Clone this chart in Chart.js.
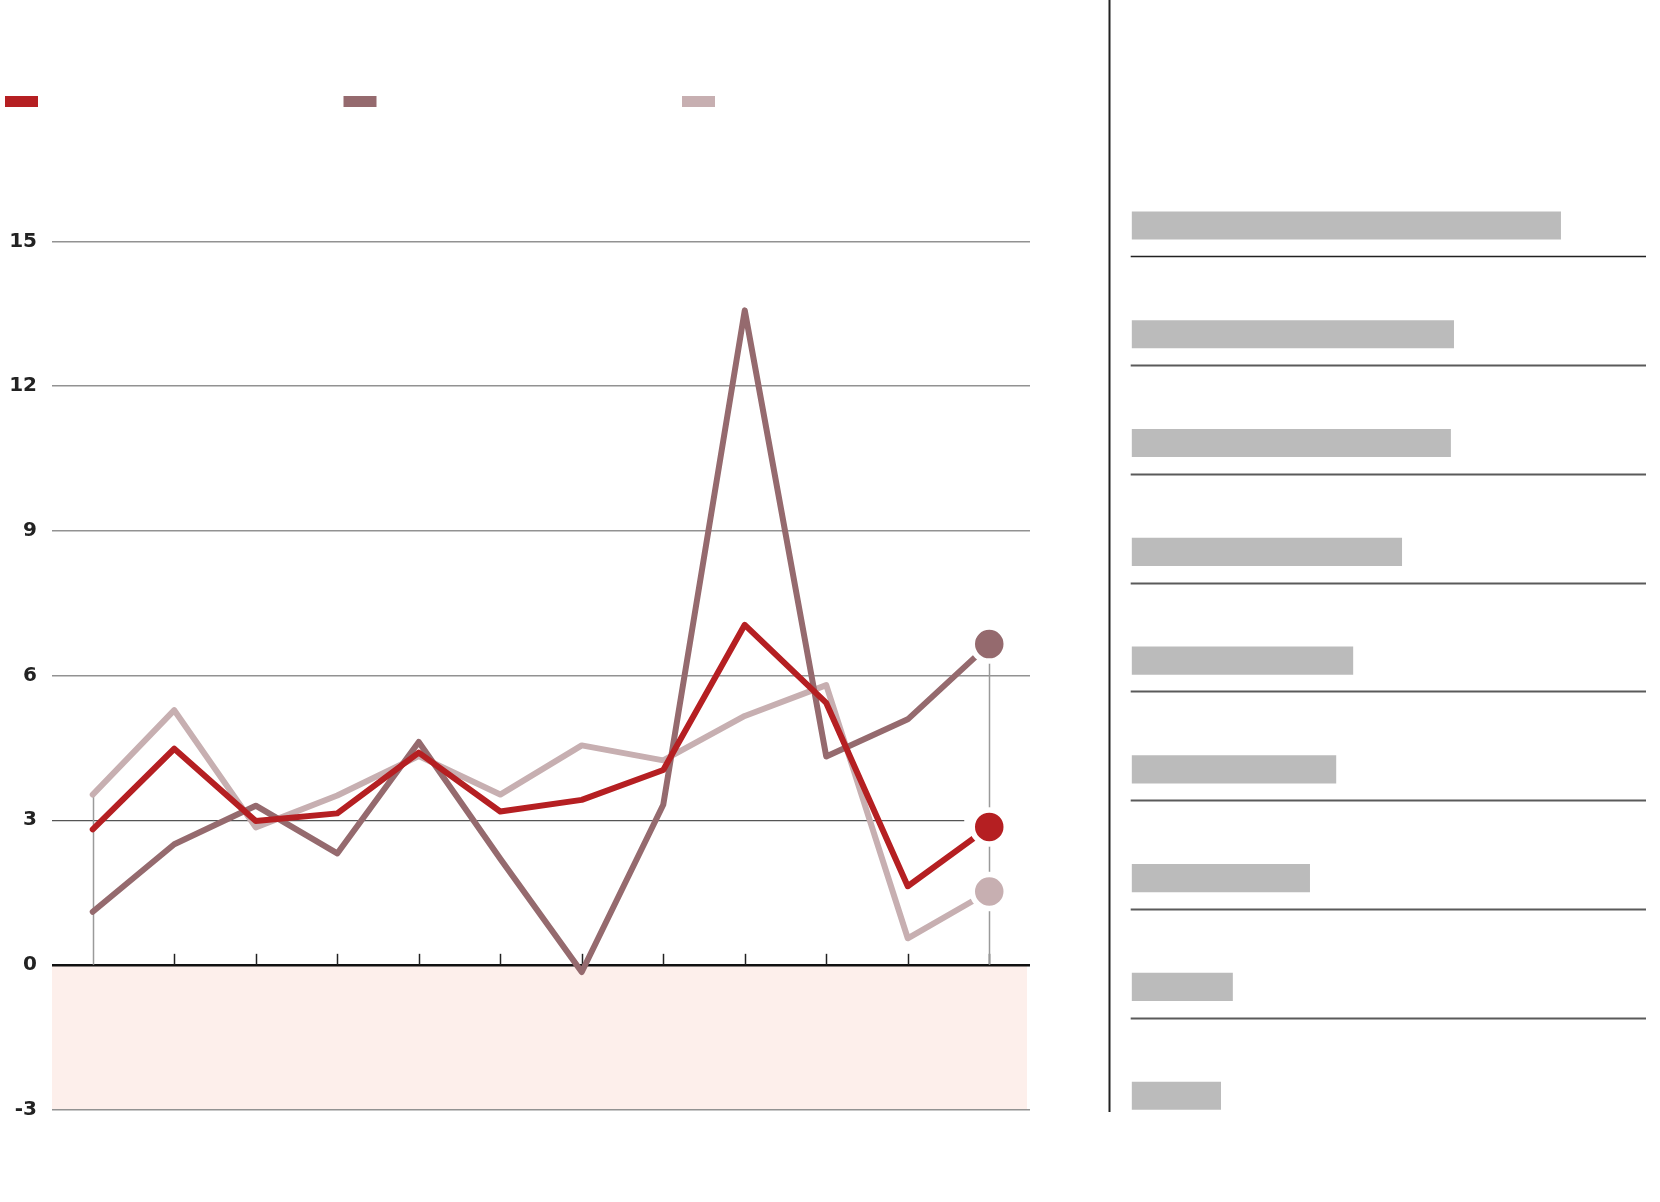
<!DOCTYPE html>
<html>
<head>
<meta charset="utf-8">
<script src="https://cdn.jsdelivr.net/npm/chart.js@4.4.1/dist/chart.umd.min.js"></script>
<style>
  html, body { margin: 0; padding: 0; background: #ffffff; }
  #wrap { position: relative; width: 1660px; height: 1202px; overflow: hidden; background: #fff; }
  #lineCanvas { position: absolute; left: 0; top: 0; }
  #barCanvas { position: absolute; left: 1100px; top: 0; }
</style>
</head>
<body>
<div id="wrap">
  <canvas id="lineCanvas" width="1100" height="1202"></canvas>
  <canvas id="barCanvas" width="560" height="1202"></canvas>
</div>
<script>
// ---------- data ----------
const categories = ['1', '2', '3', '4', '5', '6', '7', '8', '9', '10', '11', '12'];
const seriesA = [2.81, 4.48, 2.98, 3.14, 4.40, 3.18, 3.42, 4.04, 7.05, 5.43, 1.63, 2.86];
const seriesB = [1.10, 2.50, 3.30, 2.31, 4.62, 2.20, -0.15, 3.32, 13.57, 4.32, 5.09, 6.65];
const seriesC = [3.53, 5.28, 2.85, 3.51, 4.33, 3.53, 4.55, 4.24, 5.16, 5.80, 0.55, 1.52];
const yTicks = [-3, 0, 3, 6, 9, 12, 15];

const barCategories = ['1', '2', '3', '4', '5', '6', '7', '8', '9'];
const barValues = [8.34, 6.26, 6.20, 5.25, 4.30, 3.97, 3.46, 1.96, 1.73];

const colA = '#b51f22';
const colB = '#956a6e';
const colC = '#c7afb1';

// ---------- line chart ----------
const lastIdx = categories.length - 1;
function endPointRadius(n) { return categories.map((_, i) => (i === lastIdx ? n : 0)); }

const linePlugin = {
  id: 'lineDeco',
  beforeDraw(chart) {
    const { ctx, chartArea: a, scales: { y } } = chart;
    const y0 = y.getPixelForValue(0);
    const ym = y.getPixelForValue(-3);
    ctx.save();
    ctx.fillStyle = '#fdefeb';
    ctx.fillRect(a.left, y0, a.right - a.left - 3, ym - y0);
    ctx.restore();
  },
  beforeDatasetsDraw(chart) {
    const { ctx, chartArea: a, scales: { x, y } } = chart;
    const y0 = y.getPixelForValue(0);
    const xl = x.getPixelForValue(lastIdx);
    ctx.save();
    // gridline at 3 ends before the end markers
    const y3 = y.getPixelForValue(3);
    ctx.fillStyle = '#ffffff';
    ctx.fillRect(xl - 25, y3 - 2, a.right - (xl - 25) + 2, 4);
    // small ticks on the zero line
    ctx.strokeStyle = '#222';
    ctx.lineWidth = 1.5;
    categories.forEach((c, i) => {
      if (i === 0) return;
      const px = Math.round(x.getPixelForValue(i)) + 0.5;
      ctx.beginPath();
      ctx.moveTo(px, y0 - 11);
      ctx.lineTo(px, y0);
      ctx.stroke();
    });
    // range lines at first and last category
    ctx.strokeStyle = '#9a9a9a';
    ctx.lineWidth = 1.5;
    [0, lastIdx].forEach(i => {
      const top = Math.max(seriesA[i], seriesB[i], seriesC[i]);
      const px = Math.round(x.getPixelForValue(i)) + 0.5;
      ctx.beginPath();
      ctx.moveTo(px, y.getPixelForValue(top));
      ctx.lineTo(px, y0);
      ctx.stroke();
    });
    ctx.restore();
  },
  afterDraw(chart) {
    const { ctx } = chart;
    ctx.save();
    chart.data.datasets.forEach((ds, i) => {
      ctx.fillStyle = ds.borderColor;
      ctx.fillRect(5 + i * 338.5, 96, 33, 11);
    });
    ctx.restore();
  }
};

function lineDs(data, color) {
  return {
    data: data,
    borderColor: color,
    backgroundColor: color,
    borderWidth: 6,
    tension: 0,
    borderJoinStyle: 'round',
    borderCapStyle: 'round',
    pointRadius: endPointRadius(17),
    pointHoverRadius: endPointRadius(17),
    pointBackgroundColor: color,
    pointBorderColor: '#ffffff',
    pointBorderWidth: 5.5,
    fill: false
  };
}

new Chart(document.getElementById('lineCanvas'), {
  type: 'line',
  data: {
    labels: categories,
    datasets: [lineDs(seriesA, colA), lineDs(seriesB, colB), lineDs(seriesC, colC)]
  },
  options: {
    responsive: false,
    animation: false,
    devicePixelRatio: 1,
    events: [],
    layout: { padding: { top: 241.4, right: 70, bottom: 92.5, left: 0 } },
    plugins: { legend: { display: false }, tooltip: { enabled: false } },
    scales: {
      x: { type: 'category', offset: true, display: false },
      y: {
        min: -3, max: 15,
        afterFit(scale) { scale.width = 52; },
        afterBuildTicks(scale) { scale.ticks = yTicks.map(v => ({ value: v })); },
        border: { display: false },
        grid: {
          drawTicks: false,
          color: ctx => (ctx.tick && ctx.tick.value === 0 ? '#111111' : (ctx.tick && ctx.tick.value === 3 ? '#555555' : '#929292')),
          lineWidth: ctx => (ctx.tick && ctx.tick.value === 0 ? 2.5 : (ctx.tick && ctx.tick.value === 3 ? 1.2 : 1.5))
        },
        ticks: {
          padding: 15,
          color: '#222222',
          font: { family: 'DejaVu Sans', weight: 'bold', size: 20 },
          callback: v => String(v)
        }
      }
    }
  },
  plugins: [linePlugin]
});

// ---------- bar chart ----------
const barPlugin = {
  id: 'barDeco',
  beforeDraw(chart) {
    const { ctx } = chart;
    ctx.save();
    ctx.strokeStyle = '#222222';
    ctx.lineWidth = 2;
    ctx.beginPath();
    ctx.moveTo(9.5, 0);
    ctx.lineTo(9.5, 1112);
    ctx.stroke();
    ctx.restore();
  },
  afterDatasetsDraw(chart) {
    const { ctx, chartArea: a, scales: { y } } = chart;
    ctx.save();
    barCategories.forEach((c, i) => {
      if (i === barCategories.length - 1) return;
      const py = Math.round(y.getPixelForValue(i) + 30.7) + 0.5;
      ctx.strokeStyle = i === 0 ? '#222222' : '#5a5a5a';
      ctx.lineWidth = i === 0 ? 1.5 : 2;
      ctx.beginPath();
      ctx.moveTo(a.left - 1, py);
      ctx.lineTo(a.right, py);
      ctx.stroke();
    });
    ctx.restore();
  }
};

new Chart(document.getElementById('barCanvas'), {
  type: 'bar',
  data: {
    labels: barCategories,
    datasets: [{
      data: barValues,
      backgroundColor: '#bbbbbb',
      borderWidth: 0,
      barThickness: 27.5
    }]
  },
  options: {
    indexAxis: 'y',
    responsive: false,
    animation: false,
    devicePixelRatio: 1,
    events: [],
    layout: { padding: { top: 171.1, right: 14, bottom: 51.9, left: 31.7 } },
    plugins: { legend: { display: false }, tooltip: { enabled: false } },
    scales: {
      x: { min: 0, max: 10, display: false },
      y: { type: 'category', offset: true, display: false }
    }
  },
  plugins: [barPlugin]
});
</script>
</body>
</html>
